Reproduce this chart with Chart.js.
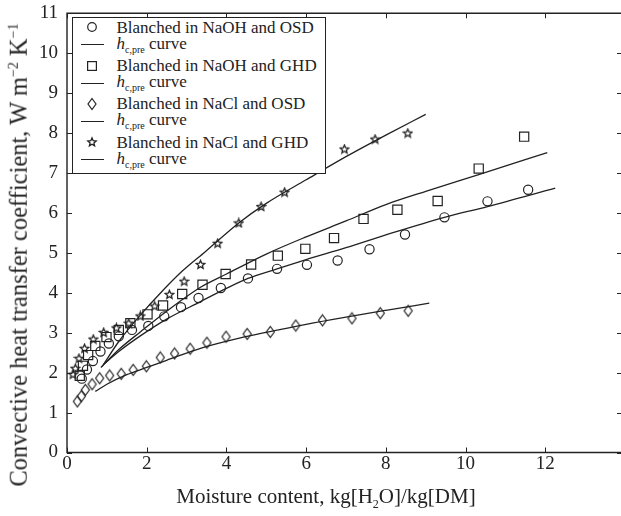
<!DOCTYPE html>
<html>
<head>
<meta charset="utf-8">
<script src="https://cdn.jsdelivr.net/npm/chart.js@4.4.1/dist/chart.umd.min.js"></script>
<style>
  html, body { margin: 0; padding: 0; background: #fff; }
  #wrap { position: relative; width: 621px; height: 516px; overflow: hidden;
          font-family: "Liberation Serif", "Times New Roman", serif; color: #222; }
  #chart { position: absolute; left: 0; top: 0; }
  #legend { position: absolute; left: 72px; top: 17px; width: 254px; height: 157px;
            border: 1.5px solid #222; background: #fff; box-sizing: border-box; }
  .lrow { position: absolute; font-size: 17px; line-height: 17px; white-space: nowrap; }
  .lsym { position: absolute; }
  sub.s { font-size: 10px; vertical-align: -4px; line-height: 0; }
  sup.s { font-size: 14px; vertical-align: 9px; line-height: 0; }
  #xtitle { position: absolute; left: 326px; top: 486px; transform: translateX(-50%);
            font-size: 21px; line-height: 21px; white-space: nowrap; }
  #xtitle sub.s { font-size: 12px; vertical-align: -5px; }
  #ytitle { position: absolute; left: 19px; top: 255px; transform: translate(-50%, -50%) rotate(-90deg);
            font-size: 24.5px; line-height: 24.5px; white-space: nowrap; }
</style>
</head>
<body>
<div id="wrap">
  <canvas id="chart" width="621" height="516"></canvas>
  <div id="legend"></div>
  <div id="xtitle">Moisture content, kg[H<sub class="s">2</sub>O]/kg[DM]</div>
  <div id="ytitle">Convective heat transfer coefficient, W m<sup class="s">&minus;2</sup> K<sup class="s">&minus;1</sup></div>
</div>
<script>
// axis ticks
const xTicks = [0, 2, 4, 6, 8, 10, 12];
const yTicks = [0, 1, 2, 3, 4, 5, 6, 7, 8, 9, 10, 11];

// Blanched in NaOH and OSD (circles)
const naohOsdX = [0.37, 0.5, 0.65, 0.84, 1.05, 1.3, 1.63, 2.04, 2.44, 2.86, 3.3, 3.86, 4.54, 5.27, 6.02, 6.79, 7.59, 8.48, 9.47, 10.55, 11.57];
const naohOsdY = [1.85, 2.08, 2.29, 2.53, 2.73, 2.91, 3.07, 3.17, 3.41, 3.64, 3.87, 4.12, 4.36, 4.6, 4.7, 4.81, 5.09, 5.46, 5.89, 6.29, 6.58];
// Blanched in NaOH and GHD (squares)
const naohGhdX = [0.32, 0.4, 0.53, 0.71, 0.99, 1.3, 1.59, 2.02, 2.41, 2.89, 3.4, 3.98, 4.62, 5.29, 5.98, 6.7, 7.44, 8.29, 9.3, 10.33, 11.47];
const naohGhdY = [1.92, 2.17, 2.44, 2.67, 2.89, 3.07, 3.24, 3.46, 3.68, 3.97, 4.2, 4.47, 4.71, 4.93, 5.1, 5.37, 5.85, 6.08, 6.3, 7.11, 7.91];
// Blanched in NaCl and OSD (diamonds)
const naclOsdX = [0.26, 0.36, 0.46, 0.63, 0.82, 1.07, 1.36, 1.66, 1.99, 2.34, 2.7, 3.09, 3.51, 3.99, 4.52, 5.1, 5.74, 6.41, 7.15, 7.86, 8.56];
const naclOsdY = [1.28, 1.41, 1.57, 1.71, 1.86, 1.93, 1.97, 2.07, 2.16, 2.38, 2.48, 2.6, 2.75, 2.9, 2.97, 3.02, 3.18, 3.31, 3.36, 3.49, 3.55];
// Blanched in NaCl and GHD (stars)
const naclGhdX = [0.15, 0.21, 0.3, 0.44, 0.66, 0.92, 1.24, 1.55, 1.84, 2.2, 2.57, 2.94, 3.35, 3.78, 4.31, 4.87, 5.46, 6.15, 6.96, 7.73, 8.55];
const naclGhdY = [1.96, 2.11, 2.36, 2.61, 2.84, 3.01, 3.12, 3.24, 3.42, 3.67, 3.96, 4.29, 4.71, 5.24, 5.75, 6.16, 6.52, 7.2, 7.6, 7.85, 8.0];

// h_c,pre curves
const curveNaohOsdX = [0.92, 1.3, 1.84, 2.5, 3.35, 4.0, 4.54, 5.27, 6.0, 7.0, 8.0, 9.47, 10.55, 12.25];
const curveNaohOsdY = [2.21, 2.53, 2.92, 3.34, 3.78, 4.11, 4.36, 4.6, 4.83, 5.13, 5.45, 5.89, 6.16, 6.62];
const curveNaohGhdX = [0.85, 1.3, 1.84, 2.5, 3.35, 4.0, 5.0, 6.0, 7.0, 8.0, 9.0, 10.33, 12.05];
const curveNaohGhdY = [2.13, 2.58, 3.02, 3.54, 4.14, 4.47, 4.97, 5.4, 5.8, 6.21, 6.54, 6.96, 7.51];
const curveNaclOsdX = [0.71, 1.0, 1.5, 2.0, 2.5, 3.35, 4.35, 5.0, 6.0, 7.0, 8.0, 9.09];
const curveNaclOsdY = [1.53, 1.71, 1.95, 2.13, 2.31, 2.61, 2.87, 3.01, 3.21, 3.39, 3.56, 3.74];
const curveNaclGhdX = [0.88, 1.3, 1.84, 2.34, 2.9, 3.47, 4.31, 5.0, 6.0, 7.0, 8.0, 9.0];
const curveNaclGhdY = [2.15, 2.78, 3.44, 3.99, 4.55, 5.03, 5.75, 6.24, 6.83, 7.41, 7.95, 8.47];

const seriesNames = ['Blanched in NaOH and OSD', 'Blanched in NaOH and GHD', 'Blanched in NaCl and OSD', 'Blanched in NaCl and GHD'];

const INK = '#222';

function pts(xs, ys) {
    return xs.map((x, i) => ({ x: x, y: ys[i] }));
}

// small outline star and tall diamond markers
function starMarker() {
    const c = document.createElement('canvas');
    c.width = 11; c.height = 11;
    const g = c.getContext('2d');
    g.strokeStyle = INK; g.lineWidth = 1.3;
    g.beginPath();
    for (let i = 0; i < 10; i++) {
        const r = i % 2 === 0 ? 4.4 : 2.0;
        const a = -Math.PI / 2 + i * Math.PI / 5;
        const px = 5.5 + r * Math.cos(a), py = 5.8 + r * Math.sin(a);
        if (i === 0) g.moveTo(px, py); else g.lineTo(px, py);
    }
    g.closePath();
    g.stroke();
    return c;
}
function diamondMarker() {
    const c = document.createElement('canvas');
    c.width = 11; c.height = 14;
    const g = c.getContext('2d');
    g.strokeStyle = INK; g.lineWidth = 1.2;
    g.beginPath();
    g.moveTo(5.5, 1.5); g.lineTo(9.5, 7); g.lineTo(5.5, 12.5); g.lineTo(1.5, 7);
    g.closePath();
    g.stroke();
    return c;
}
const starImg = starMarker();
const diamondImg = diamondMarker();

function markerSet(label, xs, ys, style, radius) {
    return {
        label: label,
        data: pts(xs, ys),
        showLine: false,
        pointStyle: style,
        pointRadius: radius,
        pointBorderColor: INK,
        pointBackgroundColor: 'rgba(0,0,0,0)',
        pointBorderWidth: 1.2,
        order: 1
    };
}
function curveSet(xs, ys) {
    return {
        label: 'h c,pre curve',
        data: pts(xs, ys),
        showLine: true,
        borderColor: INK,
        borderWidth: 1.3,
        pointRadius: 0,
        cubicInterpolationMode: 'monotone',
        order: 2
    };
}

// inward ticks on all four sides plus the frame
const frameTicks = {
    id: 'frameTicks',
    afterDraw(chart) {
        const { ctx, chartArea: a, scales: { x, y } } = chart;
        ctx.save();
        ctx.strokeStyle = INK;
        ctx.lineWidth = 1.4;
        ctx.beginPath();
        ctx.moveTo(a.right, a.top); ctx.lineTo(a.left, a.top);
        ctx.lineTo(a.left, a.bottom); ctx.lineTo(a.right, a.bottom);
        ctx.stroke();
        ctx.lineWidth = 1;
        ctx.beginPath();
        xTicks.forEach(v => {
            const px = Math.round(x.getPixelForValue(v)) + 0.5;
            ctx.moveTo(px, a.bottom); ctx.lineTo(px, a.bottom - 5);
            ctx.moveTo(px, a.top); ctx.lineTo(px, a.top + 5);
        });
        yTicks.forEach(v => {
            const py = Math.round(y.getPixelForValue(v)) + 0.5;
            ctx.moveTo(a.left, py); ctx.lineTo(a.left + 5, py);
            ctx.moveTo(a.right, py); ctx.lineTo(a.right - 4, py);
        });
        ctx.stroke();
        ctx.restore();
    }
};

const tickFont = { family: '"Liberation Serif", "Times New Roman", serif', size: 19 };

function noPad(s) {
    s.paddingLeft = 0; s.paddingRight = 0; s.paddingTop = 0; s.paddingBottom = 0;
}

new Chart(document.getElementById('chart').getContext('2d'), {
    type: 'scatter',
    data: {
        datasets: [
            markerSet(seriesNames[0], naohOsdX, naohOsdY, 'circle', 4.6),
            curveSet(curveNaohOsdX, curveNaohOsdY),
            markerSet(seriesNames[1], naohGhdX, naohGhdY, 'rect', 6.5),
            curveSet(curveNaohGhdX, curveNaohGhdY),
            markerSet(seriesNames[2], naclOsdX, naclOsdY, diamondImg, 6),
            curveSet(curveNaclOsdX, curveNaclOsdY),
            markerSet(seriesNames[3], naclGhdX, naclGhdY, starImg, 5),
            curveSet(curveNaclGhdX, curveNaclGhdY)
        ]
    },
    options: {
        responsive: false,
        animation: false,
        layout: { autoPadding: false, padding: { top: 13.3, right: 0, left: 0, bottom: 0 } },
        plugins: { legend: { display: false }, tooltip: { enabled: false } },
        scales: {
            x: {
                type: 'linear',
                min: 0,
                max: 13.9,
                afterFit: s => { s.height = 63.5; noPad(s); },
                afterBuildTicks: s => { s.ticks = xTicks.map(v => ({ value: v })); },
                grid: { display: false, drawTicks: false },
                border: { display: false },
                ticks: { color: INK, font: tickFont, padding: 0, maxRotation: 0 }
            },
            y: {
                type: 'linear',
                min: 0,
                max: 11,
                afterFit: s => { s.width = 67; noPad(s); },
                afterBuildTicks: s => { s.ticks = yTicks.map(v => ({ value: v })); },
                grid: { display: false, drawTicks: false },
                border: { display: false },
                ticks: { color: INK, font: tickFont, padding: 9 }
            }
        }
    },
    plugins: [frameTicks]
});

// legend: symbol + text rows, laid out like the original figure
const legend = document.getElementById('legend');
const legendSymbols = ['circle', 'square', 'diamond', 'star'];
function symbolSvg(kind) {
    let shape = '';
    if (kind === 'circle') shape = '<circle cx="8" cy="8" r="4.3" fill="none" stroke="#222" stroke-width="1.2"/>';
    if (kind === 'square') shape = '<rect x="3.6" y="3.6" width="8.8" height="8.8" fill="none" stroke="#222" stroke-width="1.2"/>';
    if (kind === 'diamond') shape = '<path d="M8 2.5 L12 8 L8 13.5 L4 8 Z" fill="none" stroke="#222" stroke-width="1.2"/>';
    if (kind === 'star') {
        let d = '';
        for (let i = 0; i < 10; i++) {
            const r = i % 2 === 0 ? 4.4 : 2.0;
            const a = -Math.PI / 2 + i * Math.PI / 5;
            d += (i === 0 ? 'M' : 'L') + (8 + r * Math.cos(a)).toFixed(2) + ' ' + (8.3 + r * Math.sin(a)).toFixed(2) + ' ';
        }
        shape = '<path d="' + d + 'Z" fill="none" stroke="#222" stroke-width="1.3"/>';
    }
    return '<svg width="16" height="16">' + shape + '</svg>';
}
const boxLeft = 72 + 1.5, boxTop = 17 + 1.5;
seriesNames.forEach((name, i) => {
    const base = 33.3 + 38.3 * i;
    const sym = document.createElement('div');
    sym.className = 'lsym';
    sym.style.left = (92 - 8 - boxLeft) + 'px';
    sym.style.top = (base - 5.5 - 8 - boxTop) + 'px';
    sym.innerHTML = symbolSvg(legendSymbols[i]);
    legend.appendChild(sym);

    const row = document.createElement('div');
    row.className = 'lrow';
    row.style.left = (117 - boxLeft) + 'px';
    row.style.top = (base - 14.2 - boxTop) + 'px';
    row.textContent = name;
    legend.appendChild(row);

    const cb = base + 16;
    const line = document.createElement('div');
    line.style.cssText = 'position:absolute;height:0;border-top:1.3px solid #222;width:23px;left:' +
        (81 - boxLeft) + 'px;top:' + (cb - 4.5 - boxTop) + 'px';
    legend.appendChild(line);

    const crow = document.createElement('div');
    crow.className = 'lrow';
    crow.style.left = (117 - boxLeft) + 'px';
    crow.style.top = (cb - 14.2 - boxTop) + 'px';
    crow.innerHTML = '<i>h</i><sub class="s">c,pre</sub> curve';
    legend.appendChild(crow);
});
</script>
</body>
</html>
